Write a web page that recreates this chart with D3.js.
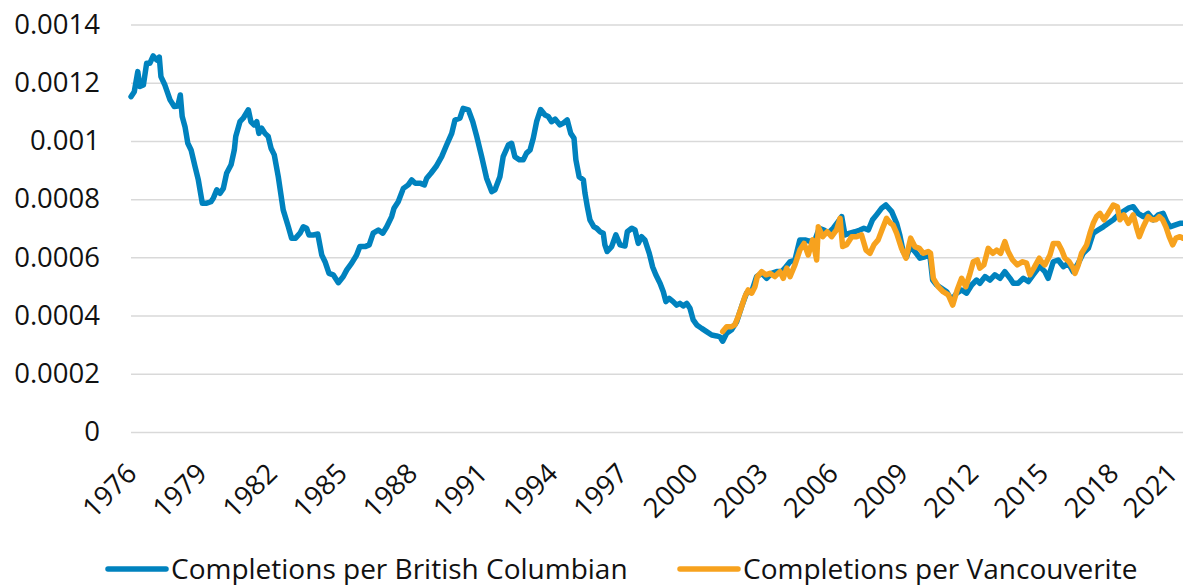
<!DOCTYPE html>
<html>
<head>
<meta charset="utf-8">
<script src="https://cdn.jsdelivr.net/npm/d3@7"></script>
<style>
  body { margin: 0; background: #fff; }
  svg { display: block; font-family: "Open Sans", sans-serif; }
  .grid line { stroke: #d9d9d9; stroke-width: 1.5px; }
  .lbl { font-size: 27.5px; fill: #111; }
  .leg text { font-size: 28px; fill: #111; }
</style>
</head>
<body>
<svg id="chart" width="1183" height="585"></svg>
<script>
// completions per British Columbian (decimal year / value)
var bcYears = [1976.00,1976.14,1976.29,1976.38,1976.53,1976.67,1976.81,1976.95,1977.10,1977.21,1977.28,1977.45,1977.67,1977.85,1978.00,1978.11,1978.19,1978.31,1978.43,1978.57,1978.74,1978.88,1979.05,1979.24,1979.42,1979.52,1979.67,1979.81,1979.95,1980.09,1980.28,1980.42,1980.48,1980.66,1980.80,1981.02,1981.13,1981.27,1981.38,1981.47,1981.59,1981.73,1981.87,1981.99,1982.13,1982.30,1982.51,1982.73,1982.87,1983.04,1983.23,1983.37,1983.51,1983.61,1983.80,1983.99,1984.16,1984.30,1984.47,1984.65,1984.87,1985.08,1985.23,1985.44,1985.65,1985.79,1986.01,1986.19,1986.36,1986.58,1986.77,1986.94,1987.15,1987.25,1987.43,1987.65,1987.86,1988.01,1988.15,1988.36,1988.55,1988.65,1988.83,1989.05,1989.29,1989.50,1989.72,1989.86,1990.07,1990.21,1990.43,1990.62,1990.79,1991.00,1991.21,1991.43,1991.57,1991.78,1991.92,1992.14,1992.28,1992.42,1992.61,1992.78,1992.92,1993.07,1993.21,1993.35,1993.52,1993.71,1993.85,1993.99,1994.14,1994.35,1994.49,1994.66,1994.81,1994.95,1995.03,1995.17,1995.35,1995.42,1995.52,1995.63,1995.80,1995.92,1996.06,1996.20,1996.27,1996.37,1996.56,1996.74,1996.92,1997.13,1997.23,1997.42,1997.56,1997.70,1997.84,1997.98,1998.17,1998.31,1998.45,1998.63,1998.77,1998.88,1999.02,1999.19,1999.34,1999.48,1999.62,1999.77,1999.91,2000.05,2000.20,2000.41,2000.62,2000.84,2001.05,2001.19,2001.31,2001.48,2001.69,2001.91,2002.12,2002.33,2002.55,2002.76,2002.98,2003.19,2003.40,2003.62,2003.83,2003.97,2004.19,2004.40,2004.61,2004.83,2005.04,2005.26,2005.44,2005.64,2005.82,2006.04,2006.25,2006.40,2006.54,2006.75,2006.97,2007.18,2007.35,2007.54,2007.72,2007.89,2008.11,2008.29,2008.54,2008.75,2008.89,2009.03,2009.18,2009.32,2009.53,2009.75,2009.96,2010.17,2010.29,2010.46,2010.67,2010.89,2011.10,2011.32,2011.53,2011.74,2011.96,2012.17,2012.31,2012.53,2012.74,2012.95,2013.17,2013.38,2013.60,2013.74,2013.95,2014.17,2014.38,2014.59,2014.81,2014.88,2015.09,2015.23,2015.45,2015.66,2015.88,2016.09,2016.30,2016.52,2016.73,2016.95,2017.16,2017.37,2017.59,2017.80,2018.02,2018.23,2018.44,2018.66,2018.87,2019.08,2019.30,2019.51,2019.73,2019.94,2020.15,2020.30,2020.44,2020.65,2020.87,2021.00];
var bcValues = [0.001152,0.001169,0.001238,0.001187,0.001192,0.001267,0.001267,0.001292,0.001278,0.001288,0.001221,0.001192,0.001141,0.001118,0.001120,0.001158,0.001084,0.001049,0.000992,0.000969,0.000912,0.000866,0.000786,0.000786,0.000791,0.000803,0.000832,0.000820,0.000837,0.000889,0.000918,0.000969,0.001015,0.001066,0.001078,0.001107,0.001066,0.001055,0.001066,0.001026,0.001044,0.001026,0.001015,0.000975,0.000952,0.000877,0.000763,0.000705,0.000666,0.000666,0.000683,0.000705,0.000700,0.000677,0.000677,0.000680,0.000608,0.000585,0.000545,0.000540,0.000513,0.000534,0.000557,0.000580,0.000608,0.000637,0.000637,0.000643,0.000683,0.000694,0.000683,0.000705,0.000740,0.000769,0.000791,0.000837,0.000849,0.000866,0.000855,0.000855,0.000849,0.000872,0.000889,0.000912,0.000946,0.000986,0.001026,0.001072,0.001078,0.001112,0.001107,0.001066,0.001015,0.000946,0.000872,0.000826,0.000832,0.000877,0.000946,0.000986,0.000992,0.000946,0.000935,0.000935,0.000958,0.000969,0.001010,0.001066,0.001108,0.001089,0.001084,0.001066,0.001075,0.001055,0.001061,0.001072,0.001026,0.001009,0.000935,0.000877,0.000866,0.000820,0.000774,0.000729,0.000705,0.000700,0.000688,0.000683,0.000643,0.000620,0.000637,0.000677,0.000643,0.000639,0.000688,0.000700,0.000694,0.000648,0.000671,0.000660,0.000614,0.000568,0.000540,0.000511,0.000482,0.000448,0.000459,0.000448,0.000436,0.000442,0.000433,0.000442,0.000425,0.000385,0.000368,0.000356,0.000345,0.000333,0.000330,0.000327,0.000312,0.000339,0.000351,0.000379,0.000431,0.000477,0.000482,0.000534,0.000545,0.000528,0.000545,0.000551,0.000551,0.000563,0.000585,0.000591,0.000660,0.000660,0.000655,0.000660,0.000700,0.000694,0.000683,0.000700,0.000723,0.000740,0.000677,0.000683,0.000688,0.000694,0.000700,0.000694,0.000729,0.000746,0.000769,0.000780,0.000757,0.000717,0.000675,0.000620,0.000602,0.000637,0.000620,0.000597,0.000602,0.000608,0.000522,0.000505,0.000494,0.000482,0.000454,0.000477,0.000488,0.000477,0.000505,0.000522,0.000511,0.000534,0.000522,0.000540,0.000528,0.000551,0.000528,0.000511,0.000511,0.000528,0.000517,0.000540,0.000563,0.000568,0.000551,0.000528,0.000585,0.000591,0.000568,0.000580,0.000551,0.000580,0.000614,0.000631,0.000683,0.000694,0.000705,0.000717,0.000729,0.000746,0.000757,0.000769,0.000774,0.000751,0.000740,0.000751,0.000729,0.000746,0.000751,0.000723,0.000705,0.000711,0.000717,0.000717];

// completions per Vancouverite
var vanYears = [2001.31,2001.48,2001.69,2001.83,2001.97,2002.12,2002.26,2002.40,2002.55,2002.69,2002.79,2002.98,2003.16,2003.33,2003.54,2003.76,2003.90,2004.05,2004.19,2004.40,2004.61,2004.79,2004.97,2005.16,2005.33,2005.40,2005.59,2005.78,2005.97,2006.18,2006.33,2006.44,2006.61,2006.83,2007.04,2007.25,2007.44,2007.61,2007.78,2007.96,2008.15,2008.32,2008.49,2008.60,2008.75,2008.96,2009.15,2009.35,2009.53,2009.72,2009.89,2010.10,2010.20,2010.32,2010.53,2010.74,2010.96,2011.15,2011.34,2011.53,2011.71,2011.89,2012.03,2012.20,2012.31,2012.48,2012.67,2012.86,2013.03,2013.20,2013.38,2013.52,2013.71,2013.91,2014.14,2014.31,2014.45,2014.62,2014.85,2014.95,2015.09,2015.31,2015.45,2015.66,2015.81,2015.95,2016.13,2016.30,2016.38,2016.52,2016.66,2016.88,2017.02,2017.16,2017.30,2017.45,2017.62,2017.80,2018.02,2018.19,2018.30,2018.47,2018.66,2018.87,2019.02,2019.13,2019.30,2019.51,2019.66,2019.84,2019.98,2020.13,2020.27,2020.41,2020.56,2020.70,2020.87,2021.00];
var vanValues = [0.000345,0.000362,0.000362,0.000368,0.000396,0.000431,0.000465,0.000488,0.000477,0.000499,0.000534,0.000551,0.000540,0.000545,0.000534,0.000551,0.000528,0.000563,0.000534,0.000574,0.000625,0.000648,0.000608,0.000660,0.000591,0.000705,0.000671,0.000688,0.000671,0.000694,0.000734,0.000637,0.000643,0.000671,0.000671,0.000677,0.000625,0.000614,0.000643,0.000660,0.000700,0.000734,0.000717,0.000711,0.000683,0.000631,0.000597,0.000666,0.000637,0.000631,0.000614,0.000620,0.000614,0.000528,0.000499,0.000482,0.000471,0.000436,0.000488,0.000528,0.000499,0.000545,0.000585,0.000591,0.000563,0.000574,0.000631,0.000614,0.000625,0.000614,0.000654,0.000620,0.000591,0.000574,0.000585,0.000580,0.000540,0.000563,0.000597,0.000585,0.000574,0.000608,0.000648,0.000648,0.000625,0.000597,0.000585,0.000563,0.000545,0.000574,0.000614,0.000643,0.000683,0.000717,0.000740,0.000751,0.000729,0.000751,0.000780,0.000774,0.000729,0.000746,0.000717,0.000746,0.000700,0.000671,0.000705,0.000740,0.000729,0.000729,0.000740,0.000729,0.000705,0.000671,0.000643,0.000666,0.000671,0.000666];

var yTicks = [0, 0.0002, 0.0004, 0.0006, 0.0008, 0.001, 0.0012, 0.0014];
var yTickLabels = ["0", "0.0002", "0.0004", "0.0006", "0.0008", "0.001", "0.0012", "0.0014"];
var xTicks = [1976, 1979, 1982, 1985, 1988, 1991, 1994, 1997, 2000, 2003, 2006, 2009, 2012, 2015, 2018, 2021];

var seriesNames = ["Completions per British Columbian", "Completions per Vancouverite"];
var colors = ["#0082be", "#f7a21e"];

var svg = d3.select("#chart");
var x = d3.scaleLinear().domain([1976, 2021]).range([131, 1183]);
var y = d3.scaleLinear().domain([0, 0.0014]).range([432, 24.5]);

// gridlines
var yAxis = d3.axisLeft(y).tickValues(yTicks).tickSize(-(1183 - 131))
  .tickFormat(function(d, i) { return yTickLabels[i]; }).tickPadding(31);
var gy = svg.append("g").attr("class", "grid").attr("transform", "translate(131,0)").call(yAxis);
gy.select(".domain").remove();
gy.selectAll("text").attr("class", "lbl").style("font-family", "'Open Sans', sans-serif");

// x labels, rotated
var xAxis = d3.axisBottom(x).tickValues(xTicks).tickSize(0).tickFormat(d3.format("d"));
var gx = svg.append("g").attr("transform", "translate(0,432)").call(xAxis);
gx.select(".domain").remove();
gx.selectAll("text")
  .attr("class", "lbl")
  .style("font-family", "'Open Sans', sans-serif")
  .attr("text-anchor", "end")
  .attr("dy", null)
  .attr("y", 0)
  .attr("transform", function(d) {
    var dx = d == 2021 ? -4 : 7;   // last one kept inside the edge
    return "translate(" + dx + ",43) rotate(-45)";
  });

var line = d3.line().x(function(d) { return x(d[0]); }).y(function(d) { return y(d[1]); });

var bc = d3.zip(bcYears, bcValues);
var van = d3.zip(vanYears, vanValues);

svg.append("path").datum(bc)
  .attr("fill", "none").attr("stroke", colors[0]).attr("stroke-width", 5.5)
  .attr("stroke-linejoin", "round").attr("stroke-linecap", "round")
  .attr("d", line);
svg.append("path").datum(van)
  .attr("fill", "none").attr("stroke", colors[1]).attr("stroke-width", 5.5)
  .attr("stroke-linejoin", "round").attr("stroke-linecap", "round")
  .attr("d", line);

// legend
var legX = [108, 680];
var leg = svg.selectAll(".leg").data(seriesNames).enter().append("g")
  .attr("class", "leg")
  .attr("transform", function(d, i) { return "translate(" + legX[i] + ",569)"; });
leg.append("line").attr("x1", 0).attr("x2", 58).attr("y1", 0).attr("y2", 0)
  .attr("stroke", function(d, i) { return colors[i]; })
  .attr("stroke-width", 5.5).attr("stroke-linecap", "round");
leg.append("text").attr("x", 63).attr("y", 9.5).text(function(d) { return d; });
</script>
</body>
</html>
